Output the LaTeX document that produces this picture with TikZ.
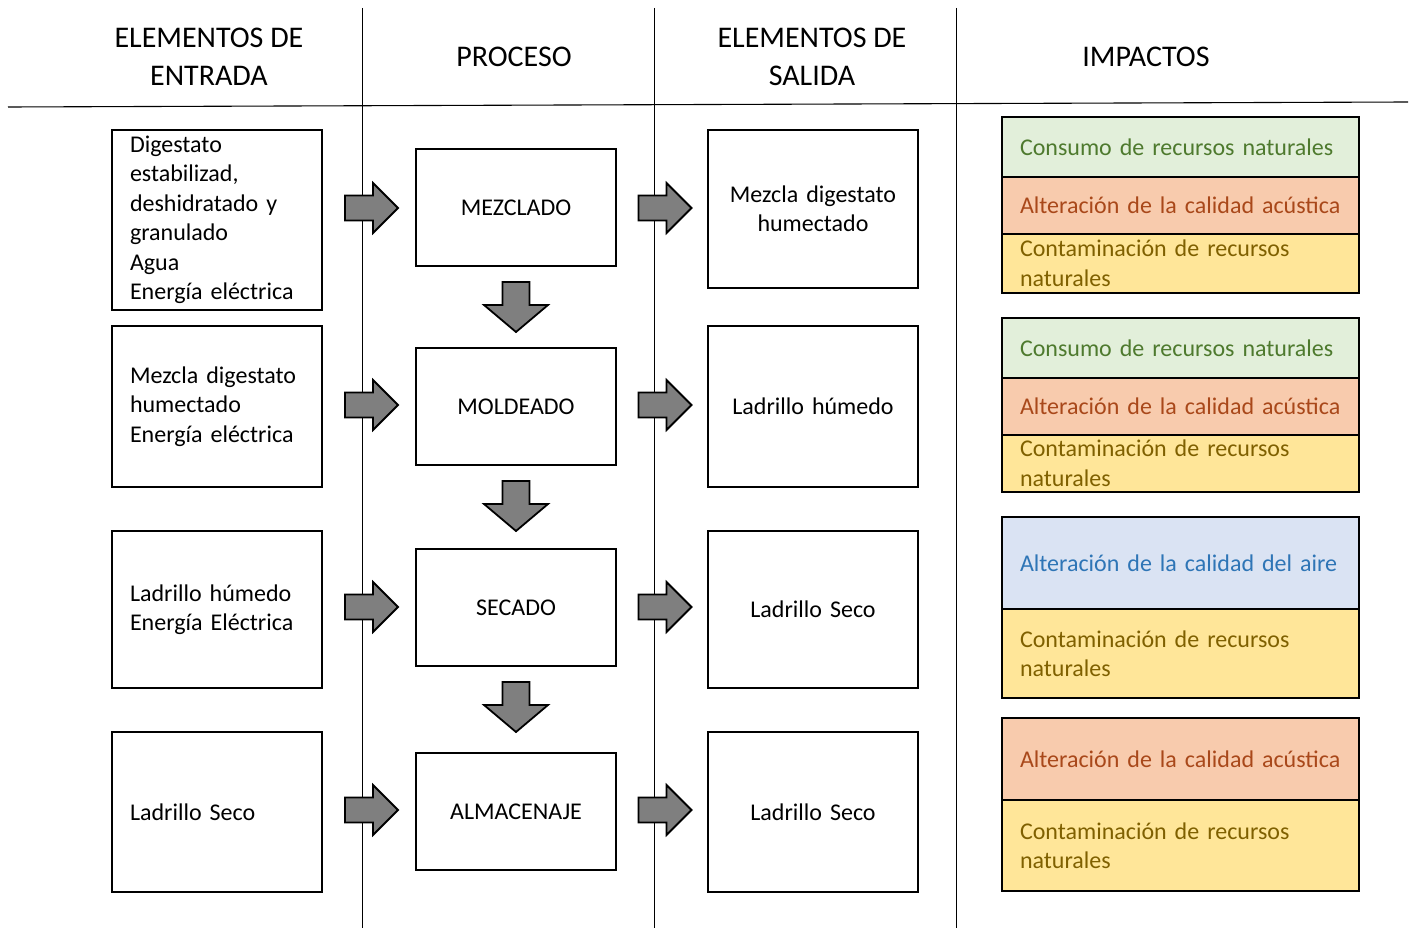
\documentclass[tikz,border=0pt]{standalone}
\usepackage{fontspec}
\setmainfont{Carlito}
\hyphenpenalty=10000
\exhyphenpenalty=10000
\definecolor{greenf}{HTML}{E2EFDA}
\definecolor{greent}{HTML}{4E7A2E}
\definecolor{orangef}{HTML}{F8CBAD}
\definecolor{oranget}{HTML}{A9481A}
\definecolor{yellowf}{HTML}{FFE699}
\definecolor{yellowt}{HTML}{7F6000}
\definecolor{bluef}{HTML}{DAE3F3}
\definecolor{bluet}{HTML}{2E75B6}
\definecolor{arrowgray}{HTML}{7F7F7F}
\tikzset{
  body/.style={font=\fontsize{24}{29.5}\selectfont},
  head/.style={font=\fontsize{30}{38}\selectfont, align=center},
  inbox/.style={body, draw, line width=1.6pt, rectangle, minimum width=210, text width=180, inner xsep=15, inner ysep=0, align=left},
  outbox/.style={body, draw, line width=1.6pt, rectangle, minimum width=210, text width=196, inner xsep=7, inner ysep=0, align=center},
  procbox/.style={body, draw, line width=1.6pt, rectangle, minimum width=200, minimum height=117, align=center},
  imp/.style={body, draw, line width=1.6pt, rectangle, minimum width=357, text width=333, inner xsep=12, inner ysep=0, align=left},
  arrowfill/.style={draw, fill=arrowgray, line width=1.8pt, line join=miter},
  rarrow/.pic={\draw[arrowfill] (-26.5,-12.5) -- (1.5,-12.5) -- (1.5,-25) -- (26.5,0) -- (1.5,25) -- (1.5,12.5) -- (-26.5,12.5) -- cycle;},
  darrow/.pic={\draw[arrowfill] (-13.5,-25) -- (13.5,-25) -- (13.5,-2) -- (32,-2) -- (0,25) -- (-32,-2) -- (-13.5,-2) -- cycle;},
  sep/.style={line width=0.8pt}
}
\begin{document}
\begin{tikzpicture}[x=1pt,y=-1pt]
\useasboundingbox (0,0) rectangle (1412,928);
% separators
\draw[line width=1.1pt] (8,107) -- (1408,102);
\draw[sep] (362,8) -- (362,928);
\draw[sep] (654,8) -- (654,928);
\draw[sep] (956,8) -- (956,928);
% headers
\node[head] (h1) at (209,57) {ELEMENTOS DE\\ENTRADA};
\node[head] (h2) at (514,57) {PROCESO};
\node[head] (h3) at (812,57) {ELEMENTOS DE\\SALIDA};
\node[head] (h4) at (1146,57) {IMPACTOS};
% input boxes
\node[inbox, minimum height=180] (in1) at (217,220) {\hspace*{3pt}Digestato\\\hspace*{3pt}estabilizad,\\\hspace*{3pt}deshidratado y\\\hspace*{3pt}granulado\\\hspace*{3pt}Agua\\\hspace*{3pt}Energía eléctrica};
\node[inbox, minimum height=161] (in2) at (217,406.5) {\hspace*{3pt}Mezcla digestato\\\hspace*{3pt}humectado\\\hspace*{3pt}Energía eléctrica};
\node[inbox, minimum height=157] (in3) at (217,609.5) {\hspace*{3pt}Ladrillo húmedo\\\hspace*{3pt}Energía Eléctrica};
\node[inbox, minimum height=160] (in4) at (217,812) {\hspace*{3pt}Ladrillo Seco};
% process boxes
\node[procbox] (p1) at (516,207.5) {MEZCLADO};
\node[procbox] (p2) at (516,406.5) {MOLDEADO};
\node[procbox] (p3) at (516,607.5) {SECADO};
\node[procbox] (p4) at (516,811.5) {ALMACENAJE};
% output boxes
\node[outbox, minimum height=158] (o1) at (813,209) {Mezcla digestato\\humectado};
\node[outbox, minimum height=161] (o2) at (813,406.5) {Ladrillo húmedo};
\node[outbox, minimum height=157] (o3) at (813,609.5) {Ladrillo Seco};
\node[outbox, minimum height=160] (o4) at (813,812) {Ladrillo Seco};
% arrows
\pic at (371.5,208) {rarrow};
\pic at (371.5,405) {rarrow};
\pic at (371.5,607) {rarrow};
\pic at (371.5,810) {rarrow};
\pic at (665,208) {rarrow};
\pic at (665,405) {rarrow};
\pic at (665,607) {rarrow};
\pic at (665,810) {rarrow};
\pic at (516,307) {darrow};
\pic at (516,506) {darrow};
\pic at (516,707) {darrow};
% impacts group 1
\node[imp, fill=greenf, text=greent, minimum height=60] (g1a) at (1180.5,147) {\hspace*{6pt}Consumo de recursos naturales};
\node[imp, fill=orangef, text=oranget, minimum height=57] (g1b) at (1180.5,205.5) {\hspace*{6pt}Alteración de la calidad acústica};
\node[imp, fill=yellowf, text=yellowt, minimum height=59] (g1c) at (1180.5,263.5) {\hspace*{6pt}Contaminación de recursos\\\hspace*{6pt}naturales};
% group 2
\node[imp, fill=greenf, text=greent, minimum height=60] (g2a) at (1180.5,348) {\hspace*{6pt}Consumo de recursos naturales};
\node[imp, fill=orangef, text=oranget, minimum height=57] (g2b) at (1180.5,406.5) {\hspace*{6pt}Alteración de la calidad acústica};
\node[imp, fill=yellowf, text=yellowt, minimum height=57] (g2c) at (1180.5,463.5) {\hspace*{6pt}Contaminación de recursos\\\hspace*{6pt}naturales};
% group 3
\node[imp, fill=bluef, text=bluet, minimum height=92] (g3a) at (1180.5,563) {\hspace*{6pt}Alteración de la calidad del aire};
\node[imp, fill=yellowf, text=yellowt, minimum height=89] (g3b) at (1180.5,653.5) {\hspace*{6pt}Contaminación de recursos\\\hspace*{6pt}naturales};
% group 4
\node[imp, fill=orangef, text=oranget, minimum height=82] (g4a) at (1180.5,759) {\hspace*{6pt}Alteración de la calidad acústica};
\node[imp, fill=yellowf, text=yellowt, minimum height=91] (g4b) at (1180.5,845.5) {\hspace*{6pt}Contaminación de recursos\\\hspace*{6pt}naturales};
\end{tikzpicture}
\end{document}
